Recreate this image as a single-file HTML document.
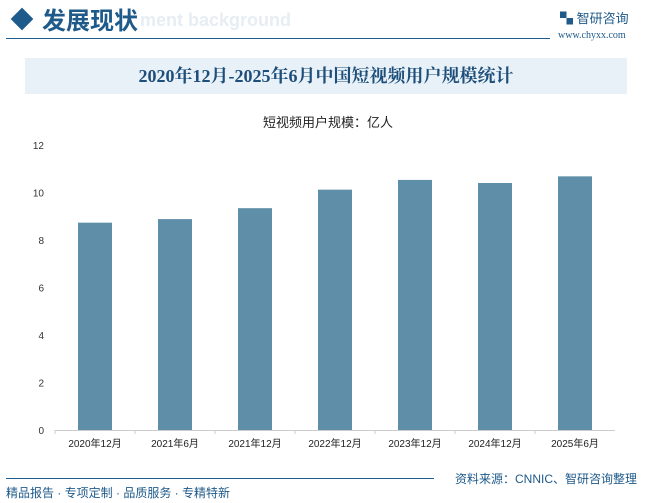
<!DOCTYPE html>
<html><head><meta charset="utf-8"><style>
body{margin:0;width:656px;height:503px;overflow:hidden;background:#fff;font-family:"Liberation Sans","Noto Sans CJK SC",sans-serif;position:relative}
.a{position:absolute}
</style></head><body>
<div class="a" style="left:14px;top:11px;width:16px;height:16px;background:#1e5a8a;transform:rotate(45deg)"></div>
<div class="a" style="left:42px;top:1px;font-size:24px;font-weight:bold;color:#1e5a8a;font-family:'Noto Sans CJK SC',sans-serif">发展现状</div>
<div class="a" style="left:140px;top:10px;font-size:18px;font-weight:bold;color:#e6edf3">ment background</div>
<div class="a" style="left:6px;top:38px;width:544px;height:1px;background:#1e5a8a"></div>
<div class="a" style="left:560px;top:8px;font-size:13px;color:#1e5a8a">▚ 智研咨询</div>
<div class="a" style="left:558px;top:30px;font-size:10px;color:#1e5a8a;font-family:'Liberation Serif',serif">www.chyxx.com</div>
<div class="a" style="left:25px;top:58px;width:602px;height:36px;background:#e8f1f8;text-align:center;line-height:36px;font-size:18px;font-weight:bold;color:#1e4e7a;font-family:'Liberation Serif','Noto Serif CJK SC',serif">2020年12月-2025年6月中国短视频用户规模统计</div>
<div class="a" style="left:0;width:656px;top:112px;text-align:center;font-size:13px;color:#222">短视频用户规模：亿人</div>
<svg class="a" style="left:0;top:0" width="656" height="503" id="c"></svg>
<div class="a" style="left:6px;top:478px;width:428px;height:1px;background:#1e5a8a"></div>
<div class="a" style="left:455px;top:470px;font-size:12px;color:#1e5a8a">资料来源：CNNIC、智研咨询整理</div>
<div class="a" style="left:6px;top:484px;font-size:12px;color:#1e5a8a">精品报告 · 专项定制 · 品质服务 · 专精特新</div>
<script>
const categories=["2020年12月","2021年6月","2021年12月","2022年12月","2023年12月","2024年12月","2025年6月"];
const values=[8.73,8.88,9.34,10.12,10.53,10.40,10.68];
const yTicks=[0,2,4,6,8,10,12];
const svg=document.getElementById('c'),ns='http://www.w3.org/2000/svg';
const x0=55,x1=615,yb=430,yt=145,ymax=12;
const y=v=>yb-(v/ymax)*(yb-yt);
const bw=(x1-x0)/categories.length;
function mk(t,a){const e=document.createElementNS(ns,t);for(const k in a)e.setAttribute(k,a[k]);svg.appendChild(e);return e;}
yTicks.forEach(t=>{const e=mk('text',{x:44,y:y(t)+4,'text-anchor':'end','font-size':10,fill:'#333'});e.textContent=t;

});
categories.forEach((c,i)=>{const cx=x0+bw*(i+0.5);
const r=mk('rect',{x:cx-17,y:y(values[i]),width:34,height:yb-y(values[i]),fill:'#5f8fa8'});


const t=mk('text',{x:cx,y:yb+17,'text-anchor':'middle','font-size':10,fill:'#222'});t.textContent=c;


const k=mk('line',{x1:x0+bw*i,x2:x0+bw*i,y1:yb,y2:yb+4,stroke:'#ccc'});

});
const ax=mk('line',{x1:x0,x2:x1,y1:yb+0.5,y2:yb+0.5,stroke:'#ccc'});


</script>
</body></html>
